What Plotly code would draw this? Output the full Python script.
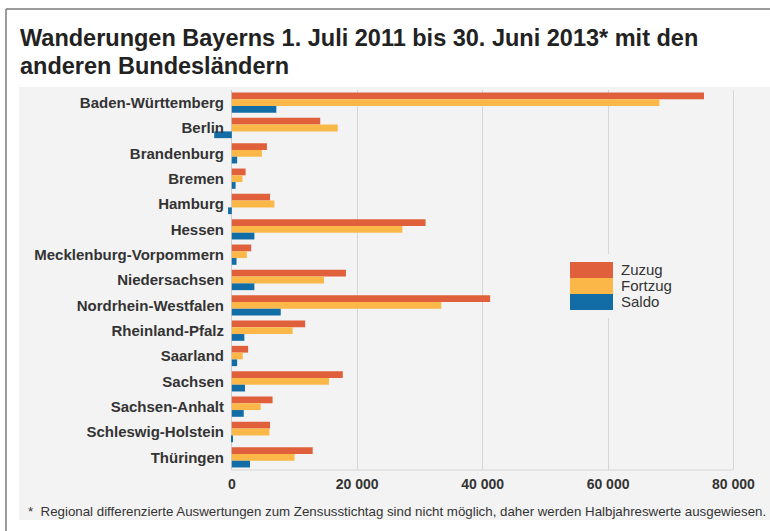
import plotly.graph_objects as go

laender = ["Baden-Württemberg", "Berlin", "Brandenburg", "Bremen", "Hamburg", "Hessen",
           "Mecklenburg-Vorpommern", "Niedersachsen", "Nordrhein-Westfalen", "Rheinland-Pfalz",
           "Saarland", "Sachsen", "Sachsen-Anhalt", "Schleswig-Holstein", "Thüringen"]
zuzug = [75300, 14100, 5600, 2200, 6100, 30900, 3100, 18200, 41200, 11700, 2600, 17700, 6500, 6100, 12900]
fortzug = [68200, 16900, 4800, 1700, 6800, 27200, 2400, 14700, 33400, 9700, 1750, 15500, 4600, 6000, 10000]
saldo = [7100, -2800, 850, 600, -600, 3600, 750, 3600, 7800, 2000, 850, 2100, 1900, 100, 2900]
tick_vals = [0, 20000, 40000, 60000, 80000]
tick_text = ["0", "20 000", "40 000", "60 000", "80 000"]

series = [("Zuzug", zuzug, "#df603a"), ("Fortzug", fortzug, "#fbb848"), ("Saldo", saldo, "#126ca6")]

fig = go.Figure()
for name, vals, col in series:
    fig.add_trace(go.Bar(y=laender, x=vals, name=name, orientation="h",
                         marker=dict(color=col, line=dict(width=0)), showlegend=False))

W, H = 770, 531
L, R, T, B = 213, 746, 90, 470
def px(x):
    return (x - L) / (R - L)
def py(y):
    return (B - y) / (B - T)

shapes = []
# gray panel
shapes.append(dict(type="rect", xref="paper", yref="paper", x0=px(19), x1=px(775), y0=py(520), y1=py(87),
                   fillcolor="#f3f3f3", line=dict(width=0), layer="below"))
# outer frame (top and left)
shapes.append(dict(type="line", xref="paper", yref="paper", x0=px(6), x1=px(775), y0=py(9), y1=py(9),
                   line=dict(width=1.5, color="#7a7a7a"), layer="below"))
shapes.append(dict(type="line", xref="paper", yref="paper", x0=px(6), x1=px(6), y0=py(9), y1=py(540),
                   line=dict(width=1.5, color="#7a7a7a"), layer="below"))
# bottom axis line
shapes.append(dict(type="line", xref="x", yref="paper", x0=0, x1=80000, y0=0, y1=0,
                   line=dict(width=1, color="#d6d6d6"), layer="below"))
# legend background covering grid line
shapes.append(dict(type="rect", xref="paper", yref="paper", x0=px(562), x1=px(685), y0=py(318), y1=py(254),
                   fillcolor="#f3f3f3", line=dict(width=0), layer="above"))
annotations = []
ly = [262, 278, 294]
for i, (name, vals, col) in enumerate(series):
    shapes.append(dict(type="rect", xref="paper", yref="paper", x0=px(570), x1=px(613),
                       y0=py(ly[i] + 16), y1=py(ly[i]), fillcolor=col, line=dict(width=0), layer="above"))
    annotations.append(dict(text=name, xref="paper", yref="paper", x=px(619), y=py(ly[i] + 7),
                            xanchor="left", yanchor="middle", showarrow=False,
                            font=dict(family="Liberation Sans", size=15, color="#333333")))

title_font = dict(family="Liberation Sans", size=23.5, color="#222222", weight="bold")
annotations.append(dict(text="Wanderungen Bayerns 1. Juli 2011 bis 30. Juni 2013* mit den",
                        xref="paper", yref="paper", x=px(18), y=py(38.5), xanchor="left", yanchor="middle",
                        showarrow=False, font=title_font))
annotations.append(dict(text="anderen Bundesländern",
                        xref="paper", yref="paper", x=px(18), y=py(66), xanchor="left", yanchor="middle",
                        showarrow=False, font=title_font))
annotations.append(dict(text="*  Regional differenzierte Auswertungen zum Zensusstichtag sind nicht möglich, daher werden Halbjahreswerte ausgewiesen.",
                        xref="paper", yref="paper", x=px(26), y=py(512), xanchor="left", yanchor="middle",
                        showarrow=False, font=dict(family="Liberation Sans", size=13.3, color="#333333")))

fig.update_layout(
    width=W, height=H,
    margin=dict(l=L, r=W - R, t=T, b=H - B, autoexpand=False),
    paper_bgcolor="white", plot_bgcolor="rgba(0,0,0,0)",
    barmode="group", bargap=0.2, bargroupgap=0,
    shapes=shapes, annotations=annotations,
    xaxis=dict(range=[-3000, 82000], tickvals=tick_vals, ticktext=tick_text, showgrid=True,
               gridcolor="#d6d6d6", gridwidth=1, zeroline=True, zerolinecolor="#cccccc", zerolinewidth=1,
               showline=False, ticks="", ticklabelstandoff=4,
               tickfont=dict(family="Liberation Sans", size=14, color="#333333", weight="bold")),
    yaxis=dict(autorange="reversed", showgrid=False, zeroline=False, showline=False, ticks="",
               ticklabelstandoff=-12,
               tickfont=dict(family="Liberation Sans", size=15, color="#333333", weight="bold")),
)
fig.write_html("out.html", config={"displayModeBar": False},
               post_script="document.body.style.margin='0';")
